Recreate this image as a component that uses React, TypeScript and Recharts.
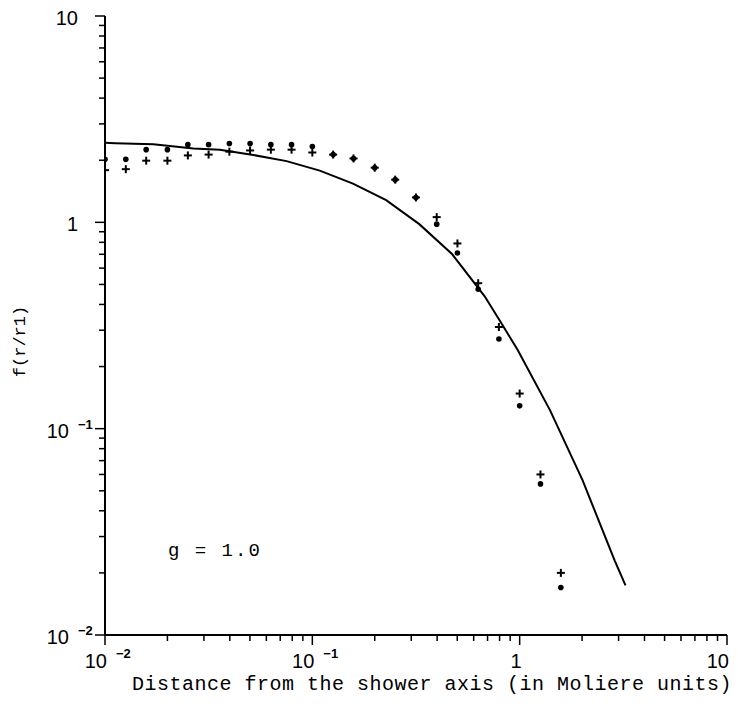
import { ScatterChart, Scatter, XAxis, YAxis, Label } from "recharts";

// distances (Moliere units) where the measured points sit
const pointX = [
  0.01, 0.0126, 0.0158, 0.02, 0.0251, 0.0316, 0.0398, 0.0501, 0.0631, 0.0794,
  0.1, 0.126, 0.158, 0.2, 0.251, 0.316, 0.398, 0.501, 0.631, 0.794, 1.0, 1.26, 1.58,
];
// filled markers
const dotSet = [
  2.02, 2.02, 2.25, 2.25, 2.38, 2.38, 2.41, 2.41, 2.38, 2.38,
  2.33, 2.13, 2.04, 1.84, 1.61, 1.32, 0.98, 0.71, 0.474, 0.272, 0.129, 0.054, 0.017,
];
// "+" markers
const plusSet = [
  1.79, 1.81, 1.99, 1.99, 2.11, 2.13, 2.2, 2.23, 2.25, 2.25,
  2.18, 2.13, 2.04, 1.84, 1.61, 1.32, 1.06, 0.79, 0.507, 0.311, 0.148, 0.06, 0.02,
];

// theoretical curve
const curveX = [
  0.01, 0.0112, 0.0171, 0.0267, 0.0358, 0.0519, 0.0751, 0.1086, 0.157, 0.227,
  0.328, 0.473, 0.678, 0.815, 0.977, 1.4, 2.01, 2.87, 3.24,
];
const curveY = [
  2.43, 2.42, 2.39, 2.28, 2.25, 2.12, 1.98, 1.78, 1.54, 1.28,
  0.98, 0.7, 0.438, 0.325, 0.241, 0.123, 0.0563, 0.023, 0.0174,
];

const majorTicks = [0.01, 0.1, 1, 10];
const majorBase = ["10", "10", "1", "10"];
const majorExp = ["\u22122", "\u22121", "", ""];
const allTicks = [
  0.01, 0.02, 0.03, 0.04, 0.05, 0.06, 0.07, 0.08, 0.09,
  0.1, 0.2, 0.3, 0.4, 0.5, 0.6, 0.7, 0.8, 0.9,
  1, 2, 3, 4, 5, 6, 7, 8, 9, 10,
];

const dots = pointX.map((x, i) => ({ x, y: dotSet[i] }));
const pluses = pointX.map((x, i) => ({ x, y: plusSet[i] }));
const curve = curveX.map((x, i) => ({ x, y: curveY[i] }));

const tickFont = "'Liberation Sans', Arial, sans-serif";
const monoFont = "'Liberation Mono', 'Courier New', monospace";

const XTick = ({ x, y, payload }: any) => {
  const i = majorTicks.indexOf(payload.value);
  const major = i >= 0;
  return (
    <g>
      <line x1={x} x2={x} y1={y} y2={y + (major ? 10 : 6)} stroke="#000" strokeWidth={1.5} />
      {major && (
        <text x={x + 2} y={y + 33} textAnchor="end" fontSize={20} fontFamily={tickFont} fill="#000">
          {majorBase[i]}
        </text>
      )}
      {major && majorExp[i] && (
        <text x={x + 11} y={y + 23} fontSize={13} fontWeight="bold" fontFamily={tickFont} fill="#000">
          {majorExp[i]}
        </text>
      )}
    </g>
  );
};

const YTick = ({ x, y, payload }: any) => {
  const i = majorTicks.indexOf(payload.value);
  const major = i >= 0;
  const hasExp = major && majorExp[i] !== "";
  return (
    <g>
      <line x1={x - (major ? 10 : 6)} x2={x} y1={y} y2={y} stroke="#000" strokeWidth={1.5} />
      {major && (
        <text
          x={hasExp ? x - 36 : x - 27}
          y={y + 9}
          textAnchor="end"
          fontSize={20}
          fontFamily={tickFont}
          fill="#000"
        >
          {majorBase[i]}
        </text>
      )}
      {hasExp && (
        <text x={x - 27} y={y} fontSize={13} fontWeight="bold" fontFamily={tickFont} fill="#000">
          {majorExp[i]}
        </text>
      )}
    </g>
  );
};

const DotMark = ({ cx, cy }: any) => <circle cx={cx} cy={cy} r={2.8} fill="#000" />;

const PlusMark = ({ cx, cy }: any) => (
  <g stroke="#000" strokeWidth={2}>
    <line x1={cx - 4} x2={cx + 4} y1={cy} y2={cy} />
    <line x1={cx} x2={cx} y1={cy - 4} y2={cy + 4} />
  </g>
);

const NoMark = () => null;

const XTitle = ({ viewBox }: any) => (
  <text
    x={viewBox.x + 27}
    y={viewBox.y + 55}
    fontSize={20}
    letterSpacing={0.5}
    fontFamily={monoFont}
    fill="#000"
  >
    Distance from the shower axis (in Moliere units)
  </text>
);

const YTitle = ({ viewBox }: any) => {
  const cx = viewBox.x + 20;
  const cy = viewBox.y + viewBox.height / 2 + 16;
  return (
    <text
      x={cx}
      y={cy}
      transform={`rotate(-90 ${cx} ${cy})`}
      textAnchor="middle"
      fontSize={17}
      fontFamily={monoFont}
      fill="#000"
    >
      f(r/r1)
    </text>
  );
};

export default function App() {
  return (
    <div style={{ position: "absolute", left: 0, top: 0, width: 738, height: 719, background: "#fff" }}>
      <ScatterChart width={738} height={719} margin={{ top: 16, right: 11, left: 5, bottom: 0 }}>
        <XAxis
          dataKey="x"
          type="number"
          scale="log"
          domain={[0.01, 10]}
          ticks={allTicks}
          interval={0}
          tick={<XTick />}
          tickLine={false}
          tickSize={0}
          tickMargin={0}
          axisLine={{ stroke: "#000", strokeWidth: 2 }}
          height={84}
          allowDataOverflow
        >
          <Label content={<XTitle />} />
        </XAxis>
        <YAxis
          dataKey="y"
          type="number"
          scale="log"
          domain={[0.01, 10]}
          ticks={allTicks}
          interval={0}
          tick={<YTick />}
          tickLine={false}
          tickSize={0}
          tickMargin={0}
          axisLine={{ stroke: "#000", strokeWidth: 2 }}
          width={100}
          allowDataOverflow
        >
          <Label content={<YTitle />} />
        </YAxis>
        <Scatter
          data={curve}
          line={{ stroke: "#000", strokeWidth: 2 }}
          lineType="joint"
          shape={<NoMark />}
          isAnimationActive={false}
        />
        <Scatter data={dots} shape={<DotMark />} isAnimationActive={false} />
        <Scatter data={pluses} shape={<PlusMark />} isAnimationActive={false} />
      </ScatterChart>
      <div
        style={{
          position: "absolute",
          left: 168,
          top: 540,
          fontFamily: monoFont,
          fontSize: 19,
          letterSpacing: 2,
          color: "#000",
          whiteSpace: "pre",
        }}
      >
        g = 1.0
      </div>
    </div>
  );
}
